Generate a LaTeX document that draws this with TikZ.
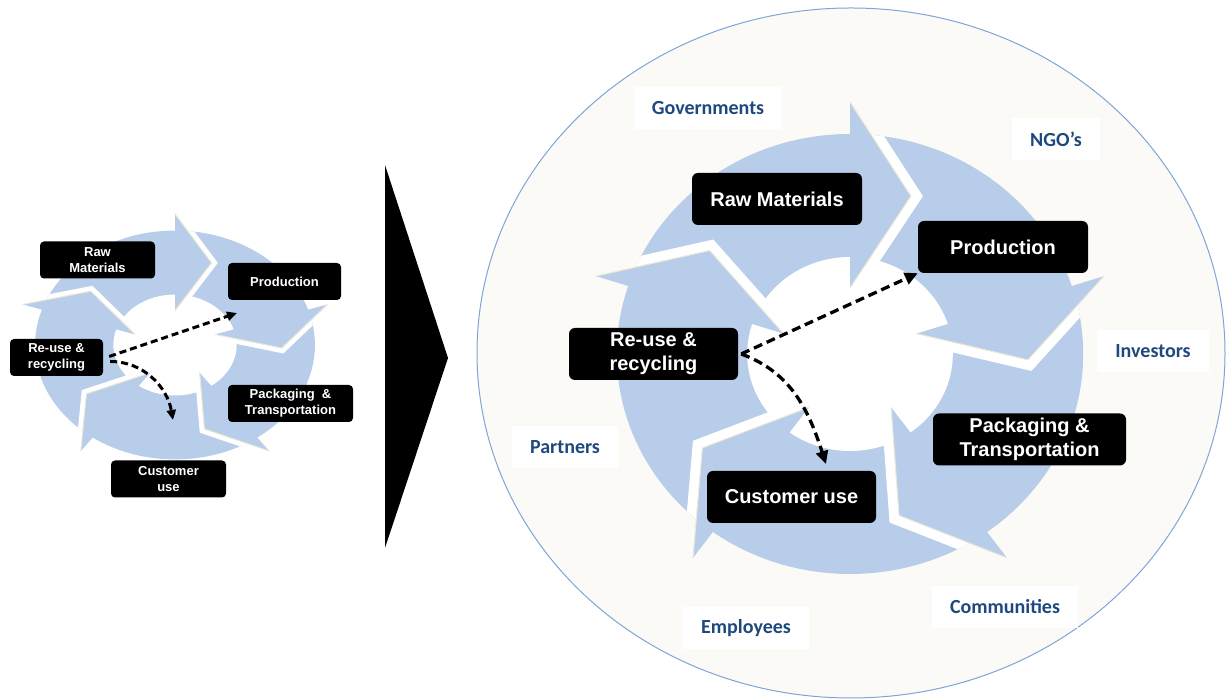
\documentclass[tikz,border=0pt]{standalone}
\usepackage{fontspec}
\setmainfont{Liberation Sans}
\newfontfamily\calibri{Carlito}
\usetikzlibrary{arrows.meta}

\definecolor{ringblue}{RGB}{184,205,234}
\definecolor{paper}{RGB}{252,250,247}
\definecolor{rimblue}{RGB}{125,165,218}
\definecolor{navy}{RGB}{31,73,125}
\definecolor{cream}{RGB}{236,232,214}

% five circular arrows running clockwise, #1 = width of the white gaps
\newcommand{\drawcycle}[1]{
  \fill[ringblue] (0,0) circle (220pt);
  \fill[white] (0,0) circle (97pt);
  \begin{scope}
    \clip (0,0) circle (220pt);
    \foreach \h in {90,18,-54,-126,-198}
      \draw[white, line width=#1, line join=miter] (\h:252) -- ({\h-20}:168) -- (\h:66);
  \end{scope}
  \foreach \h in {90,18,-54,-126,-198} {
    \fill[ringblue] (\h:252) -- ({\h-20}:168) -- (\h:66) -- cycle;
    \draw[cream, line width=1pt] (\h:252) -- ({\h-20}:168) -- (\h:66);
  }
}

\tikzset{
  bigbox/.style={fill=black, text=white, rounded corners=6pt, inner sep=0pt,
    minimum height=52pt, align=center, font=\bfseries\fontsize{20}{24}\selectfont},
  smallbox/.style={fill=black, text=white, rounded corners=4pt, inner sep=0pt,
    minimum height=37pt, align=center, font=\bfseries\fontsize{13}{16}\selectfont},
  stake/.style={fill=white, text=navy, inner xsep=18pt, minimum height=42pt,
    font=\calibri\bfseries\fontsize{20}{22}\selectfont},
  flowline/.style={line width=3.3pt, dash pattern=on 9pt off 5pt,
    -{Triangle[length=13pt,width=12pt]}},
  smallflow/.style={line width=3pt, dash pattern=on 7pt off 4pt,
    -{Triangle[length=10pt,width=9pt]}}
}

\begin{document}
\begin{tikzpicture}[x=1pt, y=1pt]
  \useasboundingbox (0,0) rectangle (1227,700);

  % stakeholder ellipse
  \draw[rimblue, fill=paper, line width=1pt] (851,347) ellipse (374pt and 345pt);

  % stakeholders
  \node[stake] (gov) at (708,592) {Governments};
  \node[stake] (ngo) at (1056,561) {NGO’s};
  \node[stake] (inv) at (1153,349) {Investors};
  \node[stake] (part) at (565,253) {Partners};
  \node[stake] (empl) at (746,72) {Employees};
  \node[stake] (comm) at (1005,93) {Communities};

  % the two cycles
  \begin{scope}[shift={(850,346)}, xscale=1.06]
    \drawcycle{20pt}
  \end{scope}
  \begin{scope}[shift={(175,355)}, xscale=0.636, yscale=0.52]
    \drawcycle{10pt}
  \end{scope}

  % big arrow in between
  \fill (385,535) -- (448,342) -- (385,152) -- cycle;

  % small cycle
  \node[smallbox, minimum width=115pt] (sraw) at (97.5,440) {Raw\\Materials};
  \node[smallbox, minimum width=113pt] (sprod) at (284.5,418.5) {Production};
  \node[smallbox, minimum width=125pt] (spack) at (290.5,296.5) {Packaging\ \ \&\\Transportation};
  \node[smallbox, minimum width=115pt] (scust) at (168.5,221) {Customer\\use};
  \node[smallbox, minimum width=93pt] (sreuse) at (56.5,342.5) {Re-use \&\\recycling};

  \coordinate (sprodin) at (237,387);
  \coordinate (scustin) at (173,280);
  \draw[smallflow] ([shift={(6pt,1pt)}]sreuse.east) -- (sprodin);
  \draw[smallflow] ([shift={(7pt,-4pt)}]sreuse.east) to[out=0, in=100] (scustin);

  % big cycle
  \node[bigbox, minimum width=170pt] (raw) at (777,501) {Raw Materials};
  \node[bigbox, minimum width=170pt] (prod) at (1003,453) {Production};
  \node[bigbox, minimum width=193pt] (pack) at (1029.5,260.5) {Packaging \&\\Transportation};
  \node[bigbox, minimum width=169pt] (cust) at (791.5,203) {Customer use};
  \node[bigbox, minimum width=169pt] (reuse) at (653.5,346) {Re-use \&\\recycling};

  \coordinate (custin) at (826,236);
  \draw[flowline] ([xshift=3pt]reuse.east) -- (prod.south west);
  \draw[flowline] ([xshift=3pt]reuse.east) to[out=-20, in=108] (custin);
\end{tikzpicture}
\end{document}
